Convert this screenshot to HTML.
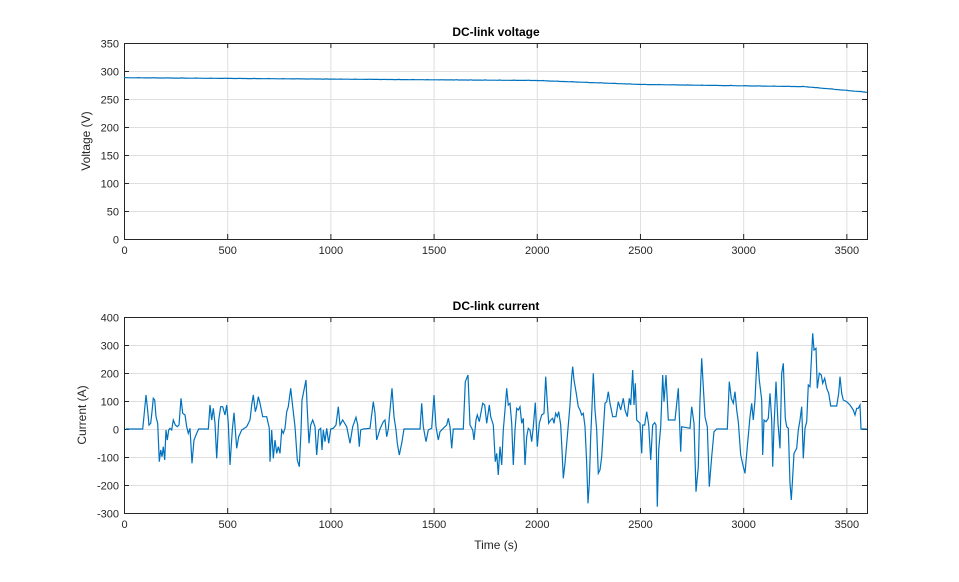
<!DOCTYPE html>
<html><head><meta charset="utf-8"><style>
body{margin:0;background:#fff;font-family:"Liberation Sans",sans-serif}
</style></head><body>
<svg id="s" width="959" height="577" xmlns="http://www.w3.org/2000/svg" font-family="Liberation Sans, sans-serif">
<rect width="959" height="577" fill="#fff"/>
<g id="g1" stroke="#dfdfdf" stroke-width="1"></g>
<rect x="124.5" y="43.5" width="743" height="196" fill="none" stroke="#262626"/>
<rect x="124.5" y="317.5" width="743" height="196" fill="none" stroke="#262626"/>
<g id="t" font-size="11" fill="#262626"></g>
<text x="496" y="36" text-anchor="middle" font-size="12" font-weight="bold" fill="#000">DC-link voltage</text>
<text x="496" y="310" text-anchor="middle" font-size="12" font-weight="bold" fill="#000">DC-link current</text>
<text x="496" y="549" text-anchor="middle" font-size="12" fill="#262626">Time (s)</text>
<text transform="translate(90,141) rotate(-90)" text-anchor="middle" font-size="12" fill="#262626">Voltage (V)</text>
<text transform="translate(86,415) rotate(-90)" text-anchor="middle" font-size="12" fill="#262626">Current (A)</text>
<polyline id="pv" fill="none" stroke="#0072BD" stroke-width="1.2"/>
<polyline id="pc" fill="none" stroke="#0072BD" stroke-width="1.2"/>
</svg>
<script>
var NS="http://www.w3.org/2000/svg",g=document.getElementById('g1'),t=document.getElementById('t');
function L(x1,y1,x2,y2,p,c){var l=document.createElementNS(NS,'line');l.setAttribute('x1',x1);l.setAttribute('y1',y1);l.setAttribute('x2',x2);l.setAttribute('y2',y2);if(c)l.setAttribute('stroke',c);p.appendChild(l);}
function T(x,y,s,a){var e=document.createElementNS(NS,'text');e.setAttribute('x',x);e.setAttribute('y',y);e.setAttribute('text-anchor',a);e.textContent=s;t.appendChild(e);}
var sx=743/3600;
for(var v=0;v<=3500;v+=500){var x=124.5+v*sx;
 [[43,239],[317,513]].forEach(function(r){L(x,r[0],x,r[1],g);L(x,r[1],x,r[1]-5,t,'#262626');L(x,r[0],x,r[0]+5,t,'#262626');T(x,r[1]+15,v,'middle');});}
for(var v=0;v<=350;v+=50){var y=239.5-v*0.56;L(124,y,867,y,g);L(124,y,129,y,t,'#262626');L(867,y,862,y,t,'#262626');T(119,y+4,v,'end');}
for(var v=-300;v<=400;v+=100){var y=429.5-v*0.28;L(124,y,867,y,g);L(124,y,129,y,t,'#262626');L(867,y,862,y,t,'#262626');T(119,y+4,v,'end');}
t.setAttribute('stroke','none');
var pts=[];for(var i=0;i<=360;i++){var s=i*10,v;
 if(s<2000)v=288-5*s/2000;else if(s<2500)v=283-7*(s-2000)/500;else if(s<3300)v=276-4*(s-2500)/800;else v=272-10*(s-3300)/300;
 v+=(i%7==0?0.4:0);pts.push((124+s*sx).toFixed(1)+','+(239-v*0.56).toFixed(1));}
document.getElementById('pv').setAttribute('points',pts.join(' '));
var a=[17,357,68,357,72,318,78,255,82,290,87,345,92,340,96,305,100,265,104,270,108,320,113,340,118,455,122,420,126,440,130,410,134,450,138,360,142,390,146,360,150,355,155,360,160,330,166,345,172,350,177,345,183,265,188,310,195,315,200,350,205,370,210,355,216,460,222,390,230,370,236,357,265,357,270,285,275,330,280,295,285,340,290,445,296,330,302,290,308,290,315,315,320,285,325,340,330,465,337,360,342,308,350,415,356,380,365,360,380,350,390,330,395,285,400,255,406,305,410,290,415,260,420,280,428,320,440,320,448,355,450,455,455,360,460,445,465,390,470,430,475,410,480,430,485,360,490,370,495,355,500,305,505,290,512,235,518,290,525,350,532,450,538,470,543,365,546,270,552,240,558,210,562,300,567,400,572,345,578,330,585,350,590,435,596,360,602,355,606,420,610,360,615,395,620,355,626,400,632,357,640,355,648,345,655,290,660,345,668,330,680,350,690,400,698,350,708,322,713,345,718,410,722,360,730,357,750,355,760,275,765,310,770,390,780,357,790,335,795,330,800,380,805,357,816,235,822,320,828,360,832,400,838,435,845,400,852,357,900,357,905,280,910,350,918,395,925,360,935,355,942,255,948,350,955,390,960,365,970,355,980,345,985,325,990,350,995,415,1000,357,1030,357,1036,215,1044,195,1050,345,1058,360,1062,390,1068,330,1072,315,1078,335,1088,280,1094,285,1100,340,1108,285,1112,320,1120,345,1126,455,1130,430,1135,495,1140,410];
var b=[35,465,40,360,45,300,50,235,55,285,60,280,65,340,70,465,75,360,80,295,85,300,90,290,95,340,100,325,105,465,110,380,115,355,120,360,125,395,130,350,136,278,142,410,148,340,155,315,162,310,167,200,172,280,176,340,182,330,188,325,192,340,197,310,202,320,206,305,212,345,216,420,220,505,225,460,232,380,240,285,245,200,248,170,252,210,258,245,265,290,270,300,275,315,280,310,285,350,290,460,294,580,298,520,302,380,306,290,310,190,315,300,320,360,325,490,330,480,335,440,340,360,345,280,350,275,355,245,360,280,368,320,378,320,385,275,392,300,400,265,405,300,412,320,418,265,422,285,428,180,432,285,436,220,440,330,450,340,455,430,458,345,464,345,470,305,476,345,482,450,488,345,494,338,498,345,502,590,506,420,512,350,518,195,522,275,528,195,535,330,555,330,565,235,572,425,575,350,600,355,605,290,612,340,618,545,625,470,630,270,635,145,640,230,645,320,652,350,658,530,665,440,672,365,680,357,712,357,718,215,724,265,730,280,735,245,740,300,745,335,752,435,760,470,765,490,772,410,780,320,785,280,790,330,795,270,802,125,808,210,815,270,818,435,822,330,828,335,835,325,840,250,845,330,848,470,852,350,858,215,864,340,870,415,875,190,880,160,886,325,890,350,895,355,900,520,904,570,908,500,912,430,920,415,925,360,930,330,935,290,940,445,945,355,950,335,955,225,960,230,965,130,968,70,972,120,978,115,982,235,988,190,994,195,998,220,1004,205,1010,235,1016,250,1022,288,1040,288,1046,250,1050,200,1055,250,1060,270,1070,275,1080,285,1090,300,1095,315,1100,295,1105,295,1110,285,1113,357,1130,357];
var p=[];for(var i=0;i<a.length;i+=2)p.push((120+a[i]/3).toFixed(1)+','+(310+a[i+1]/3).toFixed(1));
for(var i=0;i<b.length;i+=2)p.push((490+b[i]/3).toFixed(1)+','+(310+b[i+1]/3).toFixed(1));
document.getElementById('pc').setAttribute('points',p.join(' '));
</script>
</body></html>
